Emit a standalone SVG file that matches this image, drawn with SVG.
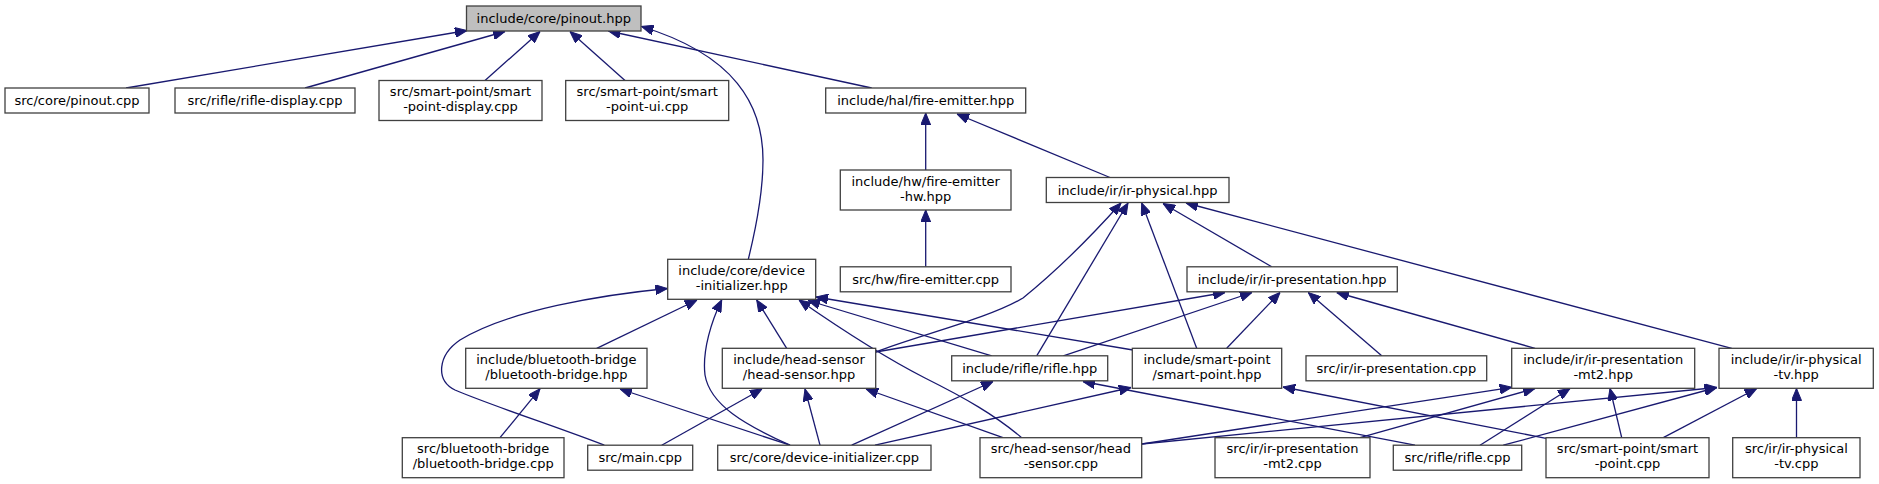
<svg xmlns="http://www.w3.org/2000/svg" width="1879" height="484" viewBox="0 0 1879 484">
<style>
.n rect{fill:#ffffff;stroke:#404040;stroke-width:1.3}
.n text{font-family:"DejaVu Sans","Liberation Sans",sans-serif;font-size:13px;fill:#000000;text-anchor:middle}
.e path{fill:none;stroke:#191970;stroke-width:1.3;marker-end:url(#ah)}
</style>
<defs>
<marker id="ah" viewBox="0 0 12 10" refX="12" refY="5" markerWidth="12" markerHeight="10" markerUnits="userSpaceOnUse" orient="auto">
<path d="M0,0 L12,5 L0,10 z" fill="#191970" stroke="#191970" stroke-width="1"/>
</marker>
</defs>
<rect width="1879" height="484" fill="#ffffff"/>
<g id="edges" class="e">
<path d="M126,88 L467,30.5"/>
<path d="M305,88 L505,31.5"/>
<path d="M485,80.5 L540,31.5"/>
<path d="M625,80.5 L570,31.5"/>
<path d="M871.7,88 L608.5,31"/>
<path d="M748.3,259.3 C756,228 763,195 763,160 C763,105 735,55 641.5,26.5"/>
<path d="M925.7,170 L925.7,113"/>
<path d="M1110,177.5 L957,114"/>
<path d="M925.7,266.8 L925.7,210"/>
<path d="M875.7,352 C920,335 990,318 1023,298 C1060,268 1095,232 1121,203"/>
<path d="M1036.7,355.8 L1128,203"/>
<path d="M1196.7,348.3 L1141.7,203"/>
<path d="M1271.7,266.8 L1163,203.5"/>
<path d="M1731.7,348.3 L1186,203"/>
<path d="M596.7,348.3 L697,300"/>
<path d="M604.3,445.2 C560,428 490,405 455,390 C435,380 438,355 460,340 C510,310 600,295 667.5,288.5"/>
<path d="M790,445.2 C745,425 710,405 705,375 C702,350 712,320 721.7,300"/>
<path d="M786.7,348.3 L756.7,300"/>
<path d="M1021.7,437.7 C995,415 965,398 925,378 C880,355 835,325 799,300"/>
<path d="M991.7,355.8 L808,300.5"/>
<path d="M1133,350 L816,297"/>
<path d="M875.7,352 L1225,292.5"/>
<path d="M1063.3,355.8 L1252,292.5"/>
<path d="M1226.7,348.3 L1280,292.5"/>
<path d="M1381.7,355.8 L1308.3,292.5"/>
<path d="M1535,348.3 L1336.7,292.5"/>
<path d="M500,437.7 L540,388.8"/>
<path d="M790,445.2 L620,389"/>
<path d="M661.7,445.2 L762,389"/>
<path d="M820,445.2 L805,389"/>
<path d="M1003,437.7 L866,389"/>
<path d="M851.7,445.2 L993,381.5"/>
<path d="M1415,445.2 L1083,381.5"/>
<path d="M875,445.2 L1131,387.5"/>
<path d="M1546,438.3 L1283,387"/>
<path d="M1141.7,444 L1511.7,387.3"/>
<path d="M1360,437.7 L1535,388.5"/>
<path d="M1480,445.2 L1570,388.5"/>
<path d="M1621.7,437.7 L1610,388.5"/>
<path d="M1141.7,444 L1716.7,387.5"/>
<path d="M1503.3,445.2 L1716.7,387.5"/>
<path d="M1663.3,437.7 L1756.7,388.5"/>
<path d="M1796.5,437.7 L1796.5,388.5"/>
</g>
<g id="pinout_hpp" class="n"><rect x="466.5" y="6" width="174.5" height="25" style="fill:#bfbfbf"/><text x="553.75" y="23">include/core/pinout.hpp</text></g>
<g id="pinout_cpp" class="n"><rect x="5" y="88" width="144" height="25"/><text x="77" y="105">src/core/pinout.cpp</text></g>
<g id="rifle_display_cpp" class="n"><rect x="175" y="88" width="180" height="25"/><text x="265" y="105">src/rifle/rifle-display.cpp</text></g>
<g id="smart_point_display_cpp" class="n"><rect x="379" y="80.5" width="163" height="40"/><text x="460.5" y="96.2">src/smart-point/smart</text><text x="460.5" y="111.2">-point-display.cpp</text></g>
<g id="smart_point_ui_cpp" class="n"><rect x="565.7" y="80.5" width="163" height="40"/><text x="647.2" y="96.2">src/smart-point/smart</text><text x="647.2" y="111.2">-point-ui.cpp</text></g>
<g id="fire_emitter_hpp" class="n"><rect x="825.7" y="88" width="200" height="25"/><text x="925.7" y="105">include/hal/fire-emitter.hpp</text></g>
<g id="fire_emitter_hw_hpp" class="n"><rect x="840.3" y="170" width="170.7" height="40"/><text x="925.65" y="185.7">include/hw/fire-emitter</text><text x="925.65" y="200.7">-hw.hpp</text></g>
<g id="ir_physical_hpp" class="n"><rect x="1046.3" y="177.5" width="182.7" height="25"/><text x="1137.65" y="194.5">include/ir/ir-physical.hpp</text></g>
<g id="device_initializer_hpp" class="n"><rect x="667.7" y="259.3" width="148" height="40"/><text x="741.7" y="275">include/core/device</text><text x="741.7" y="290">-initializer.hpp</text></g>
<g id="fire_emitter_cpp" class="n"><rect x="840.3" y="266.8" width="170.7" height="25"/><text x="925.65" y="283.8">src/hw/fire-emitter.cpp</text></g>
<g id="ir_presentation_hpp" class="n"><rect x="1187" y="266.8" width="210.3" height="25"/><text x="1292.15" y="283.8">include/ir/ir-presentation.hpp</text></g>
<g id="bluetooth_bridge_hpp" class="n"><rect x="465.7" y="348.3" width="181.3" height="40"/><text x="556.35" y="364">include/bluetooth-bridge</text><text x="556.35" y="379">/bluetooth-bridge.hpp</text></g>
<g id="head_sensor_hpp" class="n"><rect x="722.3" y="348.3" width="153.4" height="40"/><text x="799" y="364">include/head-sensor</text><text x="799" y="379">/head-sensor.hpp</text></g>
<g id="rifle_hpp" class="n"><rect x="951.7" y="355.8" width="156" height="25"/><text x="1029.7" y="372.8">include/rifle/rifle.hpp</text></g>
<g id="smart_point_hpp" class="n"><rect x="1132.3" y="348.3" width="149.4" height="40"/><text x="1207" y="364">include/smart-point</text><text x="1207" y="379">/smart-point.hpp</text></g>
<g id="ir_presentation_cpp" class="n"><rect x="1306" y="355.8" width="180.7" height="25"/><text x="1396.35" y="372.8">src/ir/ir-presentation.cpp</text></g>
<g id="ir_presentation_mt2_hpp" class="n"><rect x="1511.7" y="348.3" width="183" height="40"/><text x="1603.2" y="364">include/ir/ir-presentation</text><text x="1603.2" y="379">-mt2.hpp</text></g>
<g id="ir_physical_tv_hpp" class="n"><rect x="1719" y="348.3" width="154.3" height="40"/><text x="1796.15" y="364">include/ir/ir-physical</text><text x="1796.15" y="379">-tv.hpp</text></g>
<g id="bluetooth_bridge_cpp" class="n"><rect x="402.3" y="437.7" width="161.7" height="40"/><text x="483.15" y="453.4">src/bluetooth-bridge</text><text x="483.15" y="468.4">/bluetooth-bridge.cpp</text></g>
<g id="main_cpp" class="n"><rect x="587.7" y="445.2" width="105" height="25"/><text x="640.2" y="462.2">src/main.cpp</text></g>
<g id="device_initializer_cpp" class="n"><rect x="717.7" y="445.2" width="213.3" height="25"/><text x="824.35" y="462.2">src/core/device-initializer.cpp</text></g>
<g id="head_sensor_cpp" class="n"><rect x="980" y="437.7" width="161.7" height="40"/><text x="1060.85" y="453.4">src/head-sensor/head</text><text x="1060.85" y="468.4">-sensor.cpp</text></g>
<g id="ir_presentation_mt2_cpp" class="n"><rect x="1215" y="437.7" width="155" height="40"/><text x="1292.5" y="453.4">src/ir/ir-presentation</text><text x="1292.5" y="468.4">-mt2.cpp</text></g>
<g id="rifle_cpp" class="n"><rect x="1393.3" y="445.2" width="128.4" height="25"/><text x="1457.5" y="462.2">src/rifle/rifle.cpp</text></g>
<g id="smart_point_cpp" class="n"><rect x="1546" y="437.7" width="163" height="40"/><text x="1627.5" y="453.4">src/smart-point/smart</text><text x="1627.5" y="468.4">-point.cpp</text></g>
<g id="ir_physical_tv_cpp" class="n"><rect x="1732.7" y="437.7" width="127.3" height="40"/><text x="1796.35" y="453.4">src/ir/ir-physical</text><text x="1796.35" y="468.4">-tv.cpp</text></g>
</svg>
